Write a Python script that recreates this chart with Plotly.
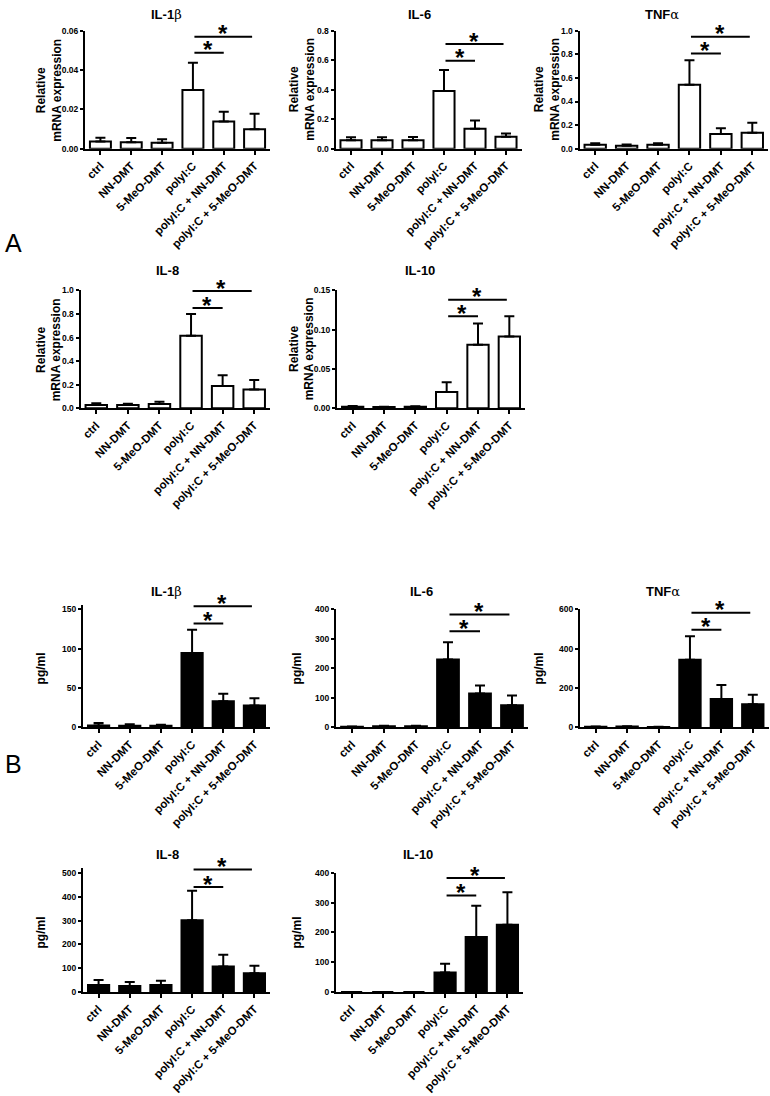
import plotly.graph_objects as go

W, H = 770, 1096

categories = ["ctrl", "NN-DMT", "5-MeO-DMT", "polyI:C", "polyI:C + NN-DMT", "polyI:C + 5-MeO-DMT"]

# A: relative mRNA expression (mean, SEM)
mrna_il1b = [0.0037, 0.0033, 0.0030, 0.0298, 0.0138, 0.0099]
mrna_il1b_err = [0.0019, 0.0021, 0.0018, 0.0139, 0.0050, 0.0079]
mrna_il6 = [0.058, 0.058, 0.058, 0.391, 0.135, 0.081]
mrna_il6_err = [0.020, 0.020, 0.022, 0.143, 0.056, 0.022]
mrna_tnfa = [0.033, 0.025, 0.033, 0.543, 0.125, 0.134]
mrna_tnfa_err = [0.014, 0.011, 0.012, 0.206, 0.048, 0.086]
mrna_il8 = [0.028, 0.028, 0.036, 0.616, 0.188, 0.160]
mrna_il8_err = [0.014, 0.011, 0.020, 0.184, 0.092, 0.080]
mrna_il10 = [0.0020, 0.0015, 0.0018, 0.0206, 0.0807, 0.0912]
mrna_il10_err = [0.0010, 0.0005, 0.0007, 0.0126, 0.0273, 0.0258]

# B: secreted protein, pg/ml (mean, SEM)
prot_il1b = [2.5, 2.0, 2.0, 94.7, 33.1, 27.7]
prot_il1b_err = [2.9, 1.8, 1.4, 29.3, 9.6, 9.2]
prot_il6 = [2, 4, 4, 230, 115, 75]
prot_il6_err = [1, 1, 1, 59, 27, 33]
prot_tnfa = [3, 4, 2, 344, 144, 117]
prot_tnfa_err = [1, 1, 1, 119, 71, 49]
prot_il8 = [29, 25, 29, 301, 107, 79]
prot_il8_err = [21, 17, 18, 124, 49, 31]
prot_il10 = [0, 0, 0, 65.7, 185, 226]
prot_il10_err = [0, 0, 0, 29, 105, 109]

# significance brackets: polyI:C vs the two combined treatments (lower, upper)
sig_from = 3
sig_to = [4, 4.92]
sig_mrna_il1b = [0.0488, 0.0569]
sig_mrna_il6 = [0.597, 0.71]
sig_mrna_tnfa = [0.808, 0.95]
sig_mrna_il8 = [0.85, 0.994]
sig_mrna_il10 = [0.117, 0.138]
sig_prot_il1b = [132, 154]
sig_prot_il6 = [326, 383]
sig_prot_tnfa = [496, 583]
sig_prot_il8 = [441, 515]
sig_prot_il10 = [324, 383]

GREEK = "<span style='font-family:DejaVu Serif;font-weight:normal'>%s</span>"
MRNA = "Relative<br>mRNA expression"

# title, values, errors, sig heights, y top, dtick, format, fill, ylabel,
# geometry in px: x-left, x-right, y-zero, y-top tick, title x, title y, ylabel x
panels = [
    ("IL-1" + GREEK % "β", mrna_il1b, mrna_il1b_err, sig_mrna_il1b, 0.06, 0.02, ".2f", "white", MRNA,
     85, 270, 145, 26, 166, 10, 49),
    ("IL-6", mrna_il6, mrna_il6_err, sig_mrna_il6, 0.8, 0.2, ".1f", "white", MRNA,
     335.5, 521.5, 145, 26, 420, 10, 302),
    ("TNF" + GREEK % "α", mrna_tnfa, mrna_tnfa_err, sig_mrna_tnfa, 1.0, 0.2, ".1f", "white", MRNA,
     579.5, 768, 145, 26, 662, 10, 547),
    ("IL-8", mrna_il8, mrna_il8_err, sig_mrna_il8, 1.0, 0.2, ".1f", "white", MRNA,
     80.5, 270, 407, 288, 167, 268, 49),
    ("IL-10", mrna_il10, mrna_il10_err, sig_mrna_il10, 0.15, 0.05, ".2f", "white", MRNA,
     337, 525, 407, 288, 420, 268, 302),
    ("IL-1" + GREEK % "β", prot_il1b, prot_il1b_err, sig_prot_il1b, 150, 50, "d", "black", "pg/ml",
     83, 270, 729, 610, 166, 592, 41),
    ("IL-6", prot_il6, prot_il6_err, sig_prot_il6, 400, 100, "d", "black", "pg/ml",
     336, 528, 729, 610, 422, 592, 297),
    ("TNF" + GREEK % "α", prot_tnfa, prot_tnfa_err, sig_prot_tnfa, 600, 200, "d", "black", "pg/ml",
     580, 768.5, 729, 610, 663, 592, 539),
    ("IL-8", prot_il8, prot_il8_err, sig_prot_il8, 500, 100, "d", "black", "pg/ml",
     83, 270, 996, 876, 167, 857, 41),
    ("IL-10", prot_il10, prot_il10_err, sig_prot_il10, 400, 100, "d", "black", "pg/ml",
     336, 523, 996, 876, 418, 857, 297),
]

FONT = "Liberation Sans, Arial, sans-serif"

fig = go.Figure()
annotations = []
layout_axes = {}

for i, (title, vals, errs, sig, ytop, dtick, fmt, fill, ylab,
        xl, xr, yz, yt, tx, ty, lx) in enumerate(panels):
    n = "" if i == 0 else str(i + 1)
    xa, ya = "x" + n, "y" + n

    # let the range reach a bracket drawn above the top tick
    ymax = max(ytop, max(sig) * 1.01)
    ytop_px = yz - (yz - yt) * ymax / ytop

    fig.add_trace(go.Bar(
        x=categories, y=vals, xaxis=xa, yaxis=ya, width=0.68,
        marker=dict(color=fill, line=dict(color="black", width=2)),
        error_y=dict(type="data", array=errs, arrayminus=[0] * len(errs), symmetric=False,
                     thickness=2, width=5, color="black"),
        showlegend=False, hoverinfo="x+y",
    ))

    layout_axes["xaxis" + n] = dict(
        domain=[xl / W, xr / W], anchor=ya, type="category", range=[-0.5, 5.5],
        showline=True, linewidth=2, linecolor="black", ticks="outside", ticklen=4,
        tickwidth=1.5, tickcolor="black", tickangle=-45, showgrid=False,
        tickfont=dict(size=11.5, family=FONT, weight="bold", color="black"),
    )
    layout_axes["yaxis" + n] = dict(
        domain=[1 - yz / H, 1 - ytop_px / H], anchor=xa, range=[0, ymax],
        tickvals=[k * dtick for k in range(int(round(ytop / dtick)) + 1)], tickformat=fmt,
        showline=True, linewidth=2, linecolor="black", ticks="outside", ticklen=3,
        tickwidth=1.5, tickcolor="black", showgrid=False, zeroline=False,
        tickfont=dict(size=8.5, family=FONT, weight="bold", color="black"),
    )

    # brackets and stars
    for h, x_end in zip(sig, sig_to):
        annotations.append(dict(
            x=x_end, y=h, xref=xa, yref=ya, ax=sig_from, ay=h, axref=xa, ayref=ya,
            text="", showarrow=True, arrowhead=0, arrowwidth=2, arrowcolor="black",
            standoff=0, startstandoff=0,
        ))
        annotations.append(dict(
            x=(sig_from + x_end) / 2, y=h, xref=xa, yref=ya, text="*", showarrow=False,
            yanchor="middle", yshift=3,
            font=dict(size=24, family=FONT, weight="bold", color="black"),
        ))

    annotations.append(dict(
        x=tx / W, y=1 - ty / H, xref="paper", yref="paper", text=title, showarrow=False,
        xanchor="center", yanchor="middle",
        font=dict(size=13, family=FONT, weight="bold", color="black"),
    ))
    annotations.append(dict(
        x=lx / W, y=1 - (yz + yt) / 2 / H, xref="paper", yref="paper", text=ylab,
        showarrow=False, textangle=-90, xanchor="center", yanchor="middle",
        font=dict(size=12, family=FONT, weight="bold", color="black"),
    ))

for letter, ly in [("A", 240), ("B", 766)]:
    annotations.append(dict(
        x=3 / W, y=1 - ly / H, xref="paper", yref="paper", text=letter, showarrow=False,
        xanchor="left", yanchor="middle",
        font=dict(size=25, family=FONT, color="black"),
    ))

fig.update_layout(
    width=W, height=H, autosize=False,
    margin=dict(l=0, r=0, t=0, b=0),
    paper_bgcolor="white", plot_bgcolor="white",
    font=dict(family=FONT, color="black"),
    annotations=annotations,
    **layout_axes,
)

fig.write_html("out.html", config={"displayModeBar": False},
               post_script="document.body.style.margin='0';")
